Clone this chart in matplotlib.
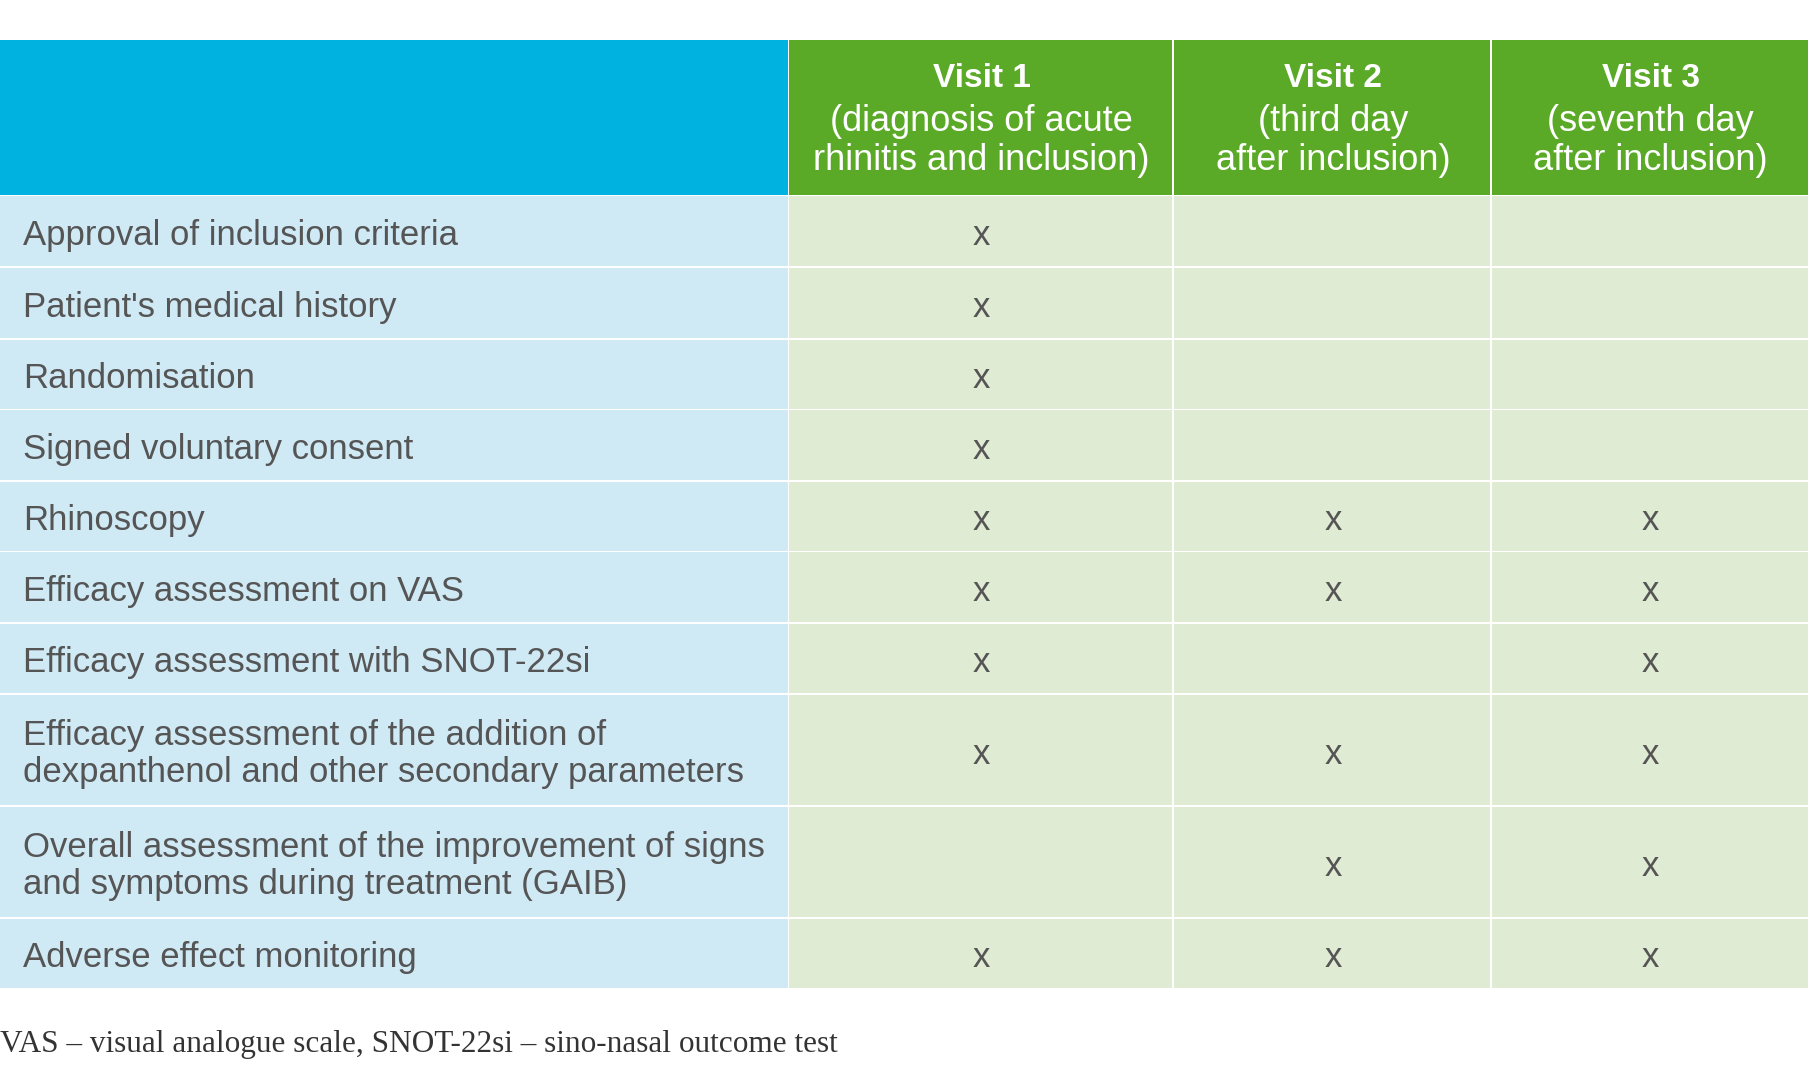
import matplotlib
matplotlib.use("Agg")
import matplotlib.pyplot as plt
from matplotlib.patches import Rectangle

visits = ["Visit 1", "Visit 2", "Visit 3"]
visit_sub = ["(diagnosis of acute\nrhinitis and inclusion)", "(third day\nafter inclusion)", "(seventh day\nafter inclusion)"]
rows = ["Approval of inclusion criteria", "Patient's medical history", "Randomisation",
        "Signed voluntary consent", "Rhinoscopy", "Efficacy assessment on VAS",
        "Efficacy assessment with SNOT-22si",
        "Efficacy assessment of the addition of\ndexpanthenol and other secondary parameters",
        "Overall assessment of the improvement of signs\nand symptoms during treatment (GAIB)",
        "Adverse effect monitoring"]
v1 = [1, 1, 1, 1, 1, 1, 1, 1, 0, 1]
v2 = [0, 0, 0, 0, 1, 1, 0, 1, 1, 1]
v3 = [0, 0, 0, 0, 1, 1, 1, 1, 1, 1]
footnote = "VAS – visual analogue scale, SNOT-22si – sino-nasal outcome test"

W, H = 1568, 938
fig = plt.figure(figsize=(18.12, 10.84), dpi=100)
ax = fig.add_axes([0, 0, 1, 1])
ax.set_xlim(0, W); ax.set_ylim(H, 0); ax.axis("off")

cols = [0, 683, 1016, 1291, 1566]
ybounds = [35, 170, 232, 294, 355, 417, 478, 540, 601, 698, 795, 856]
sans = "Liberation Sans"
tc = "#555555"
gap = 1.5
fs = 25

ax.add_patch(Rectangle((cols[0], ybounds[0]), cols[1]-cols[0]-gap, ybounds[1]-ybounds[0]-gap, color="#00B2E0", lw=0))
for j in range(3):
    x0, x1 = cols[j+1], cols[j+2]
    ax.add_patch(Rectangle((x0, ybounds[0]), x1-x0-gap, ybounds[1]-ybounds[0]-gap, color="#5AAA28", lw=0))
    cx = (x0+x1)/2
    ax.text(cx, 68, visits[j], ha="center", va="center", color="white", fontsize=24, fontweight="bold", family=sans)
    ax.text(cx, 122, visit_sub[j], ha="center", va="center", color="white", fontsize=26, family=sans, linespacing=1.15)

marks = [v1, v2, v3]
for i, r in enumerate(rows):
    y0, y1 = ybounds[i+1], ybounds[i+2]
    cy = (y0+y1)/2
    ax.add_patch(Rectangle((cols[0], y0), cols[1]-cols[0]-gap, y1-y0-gap, color="#CFE9F5", lw=0))
    ax.text(20, cy+3, r, ha="left", va="center", color=tc, fontsize=fs, family=sans, linespacing=1.15)
    for j in range(3):
        x0, x1 = cols[j+1], cols[j+2]
        ax.add_patch(Rectangle((x0, y0), x1-x0-gap, y1-y0-gap, color="#DFEBD3", lw=0))
        if marks[j][i]:
            ax.text((x0+x1)/2, cy+3, "x", ha="center", va="center", color=tc, fontsize=fs, family=sans)

ax.text(0, 904, footnote, ha="left", va="center", color="#333333", fontsize=22.5, family="Liberation Serif")
fig.savefig("out.png", dpi=100)
